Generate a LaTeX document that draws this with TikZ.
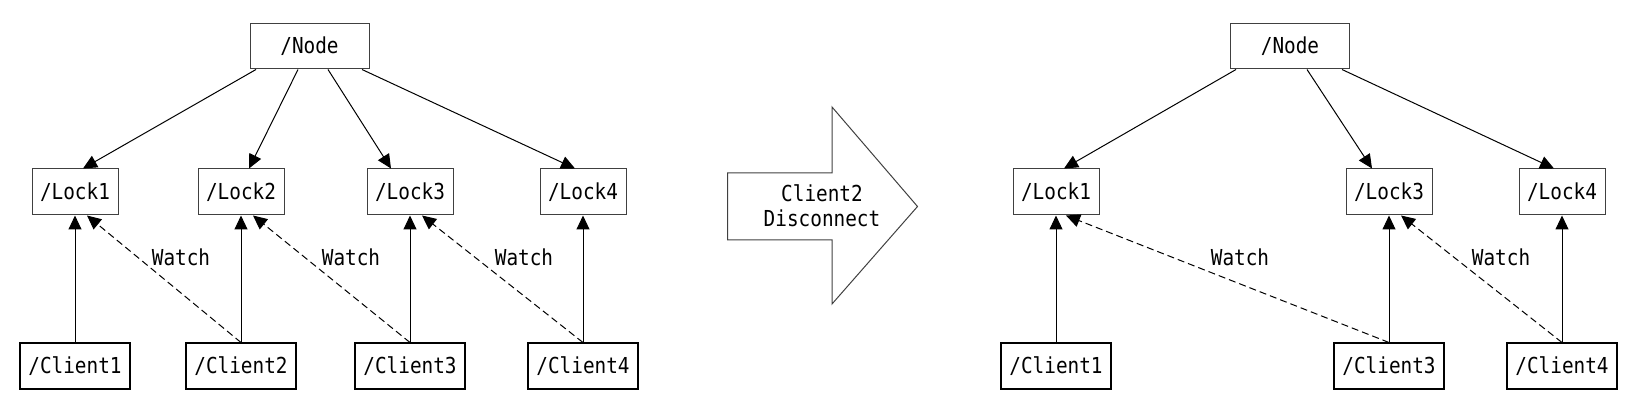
\documentclass[tikz,border=0pt]{standalone}
\usepackage{fontspec}
\setmonofont[FakeStretch=0.88]{DejaVu Sans Mono}
\usetikzlibrary{arrows.meta, positioning}
\tikzset{
  rootbox/.style={
    rectangle, draw=black!75, line width=0.5pt,
    minimum width=59.5pt, minimum height=22.5pt, inner sep=0pt
  },
  lockbox/.style={
    rectangle, draw=black!75, line width=0.5pt,
    minimum width=43pt, minimum height=23pt, inner sep=0pt
  },
  clientbox/.style={
    rectangle, draw=black, line width=0.7pt,
    minimum width=55pt, minimum height=23pt, inner sep=0pt
  },
  watch/.style={->, dash pattern=on 3.5pt off 2pt}
}

\begin{document}
\begin{tikzpicture}[x=0.5pt, y=-0.5pt, node distance=63.5pt, line width=0.5pt,
    >={Triangle[length=7pt,width=6.5pt]},
    every node/.append style={font=\ttfamily\fontsize{11}{12.5}\selectfont}]
  \useasboundingbox (0,0) rectangle (1637,405);

  % before
  \node[rootbox] (root) at (309.5,46.5) {/Node};
  \node[lockbox] (lock1) at (75,192) {/Lock1};
  \node[lockbox] (lock2) at (241,192) {/Lock2};
  \node[lockbox] (lock3) at (410,192) {/Lock3};
  \node[lockbox] (lock4) at (583,192) {/Lock4};
  \node[clientbox] (client1) [below=of lock1] {/Client1};
  \node[clientbox] (client2) [below=of lock2] {/Client2};
  \node[clientbox] (client3) [below=of lock3] {/Client3};
  \node[clientbox] (client4) [below=of lock4] {/Client4};

  \draw[->] ([xshift=-26.75pt]root.south) -- ([xshift=4pt]lock1.north);
  \draw[->] ([xshift=-5.75pt]root.south) -- ([xshift=4pt]lock2.north);
  \draw[->] ([xshift=9.25pt]root.south) -- ([xshift=-9.5pt]lock3.north);
  \draw[->] ([xshift=26.25pt]root.south) -- ([xshift=-4pt]lock4.north);

  \draw[->] (client1.north) -- (lock1.south);
  \draw[->] (client2.north) -- (lock2.south);
  \draw[->] (client3.north) -- (lock3.south);
  \draw[->] (client4.north) -- (lock4.south);

  \draw[watch] (client2.north) -- ([xshift=6pt]lock1.south);
  \draw[watch] (client3.north) -- ([xshift=6pt]lock2.south);
  \draw[watch] (client4.north) -- ([xshift=6pt]lock3.south);
  \node (watch1) at (181,257) {Watch};
  \node (watch2) at (351,257) {Watch};
  \node (watch3) at (524,257) {Watch};

  % big arrow
  \draw[black!75] (727.5,173) -- (832,173) -- (832,107) -- (917.5,206.5)
    -- (832,304) -- (832,240) -- (727.5,240) -- cycle;
  \node[align=center] (disconnect) at (822,206) {Client2\\Disconnect};

  % after
  \node[rootbox] (rootB) at (1290,46.5) {/Node};
  \node[lockbox] (lock1B) at (1056,192) {/Lock1};
  \node[lockbox] (lock3B) at (1389,192) {/Lock3};
  \node[lockbox] (lock4B) at (1562,192) {/Lock4};
  \node[clientbox] (client1B) [below=of lock1B] {/Client1};
  \node[clientbox] (client3B) [below=of lock3B] {/Client3};
  \node[clientbox] (client4B) [below=of lock4B] {/Client4};

  \draw[->] ([xshift=-27pt]rootB.south) -- ([xshift=4pt]lock1B.north);
  \draw[->] ([xshift=8.5pt]rootB.south) -- ([xshift=-8.5pt]lock3B.north);
  \draw[->] ([xshift=26pt]rootB.south) -- ([xshift=-4pt]lock4B.north);

  \draw[->] (client1B.north) -- (lock1B.south);
  \draw[->] (client3B.north) -- (lock3B.south);
  \draw[->] (client4B.north) -- (lock4B.south);

  \draw[watch] (client3B.north) -- ([xshift=5pt]lock1B.south);
  \draw[watch] (client4B.north) -- ([xshift=6pt]lock3B.south);
  \node (watch4) at (1240,257) {Watch};
  \node (watch5) at (1501,257) {Watch};
\end{tikzpicture}
\end{document}
